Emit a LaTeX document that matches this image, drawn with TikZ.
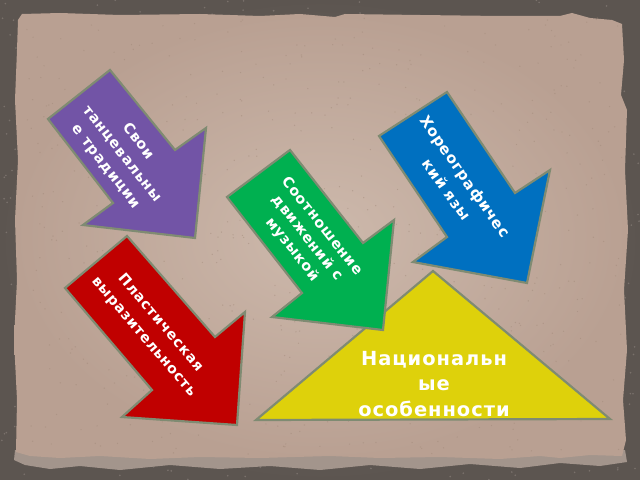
\documentclass[tikz,border=0pt]{standalone}
\usepackage{fontspec}
\newfontfamily\osb{DejaVu Sans Bold}[LetterSpace=5]
\definecolor{bgdark}{HTML}{5C5550}
\definecolor{bgmid}{HTML}{7C736D}
\definecolor{paperin}{HTML}{CDB9AC}
\definecolor{paperout}{HTML}{B9A092}
\definecolor{tornband}{HTML}{A3958C}
\definecolor{outl}{HTML}{7F8B72}
\definecolor{cpurple}{HTML}{7254A6}
\definecolor{cgreen}{HTML}{00B050}
\definecolor{cblue}{HTML}{0070C0}
\definecolor{cred}{HTML}{C00000}
\definecolor{cyellow}{HTML}{DED10B}
\definecolor{speckdark}{HTML}{9E8676}
\definecolor{specklight}{HTML}{8E847E}
\tikzset{
  arrowshape/.style={draw=outl, line width=2.2pt, line join=miter},
  lbl/.style={text=white, align=center, inner sep=0pt},
}
\begin{document}
\begin{tikzpicture}[x=1bp, y=-1bp]
\useasboundingbox (0,0) rectangle (640,480);
% dark background
\shade[inner color=bgmid, outer color=bgdark] (0,0) rectangle (640,480);
\pgfmathsetseed{4711}
\foreach \i in {1,...,700} {
  \pgfmathsetmacro\xx{640*rnd}\pgfmathsetmacro\yy{480*rnd}
  \fill[specklight, opacity=0.6] (\xx,\yy) circle (0.9);
}
% torn lighter band below paper
\fill[tornband] (15,450) -- (625,450) -- (627,462) -- (600,466) -- (560,463) -- (520,468) -- (470,464) -- (420,469) -- (370,465) -- (320,470) -- (270,466) -- (220,469) -- (170,465) -- (120,470) -- (80,466) -- (50,469) -- (25,465) -- (14,460) -- cycle;
% paper
\shade[inner color=paperin, outer color=paperout]
 (22,14) -- (60,13) -- (120,15) -- (200,14) -- (260,16) -- (300,14) -- (335,17) -- (345,14) -- (420,15) -- (500,16) -- (560,16) -- (572,13) -- (590,18) -- (612,20) -- (622,24) -- (624,60) -- (621,95) -- (627,110) -- (625,170) -- (628,230) -- (624,290) -- (627,350) -- (623,400) -- (626,440) -- (622,456) -- (590,455) -- (560,458) -- (540,456) -- (500,459) -- (440,457) -- (380,458) -- (330,456) -- (260,458) -- (200,457) -- (150,459) -- (100,456) -- (60,458) -- (30,456) -- (16,452) -- (17,400) -- (14,340) -- (17,280) -- (15,220) -- (18,160) -- (15,100) -- (17,50) -- (18,20) -- cycle;
\foreach \i in {1,...,600} {
  \pgfmathsetmacro\xx{22+600*rnd}\pgfmathsetmacro\yy{18+436*rnd}
  \fill[speckdark, opacity=0.45] (\xx,\yy) circle (0.7);
}
% triangle
\filldraw[arrowshape, fill=cyellow] (433,271) -- (610,419) -- (256,420) -- cycle;
\node[lbl, font=\osb\fontsize{19.5}{25.5}\selectfont] (tnat) at (434,384) {Национальн\\ые\\особенности};
% purple arrow
\filldraw[arrowshape, fill=cpurple] (110,70) -- (175,150) -- (206,128) -- (195,238) -- (83,225) -- (113,203) -- (48,119) -- cycle;
\node[lbl, rotate=-52, font=\osb\fontsize{14.5}{20.6}\selectfont] (tsvoi) at (122,154) {Свои\\танцевальны\\е традиции};
% red arrow
\filldraw[arrowshape, fill=cred] (127,236) -- (215,337) -- (245,312) -- (237,425) -- (122,417) -- (152,390) -- (65,288) -- cycle;
\node[lbl, rotate=-49.5, font=\osb\fontsize{14.3}{22}\selectfont] (tplast) at (152,330) {Пластическая\\выразительность};
% green arrow
\filldraw[arrowshape, fill=cgreen] (290,150) -- (363,243) -- (394,220) -- (383,330) -- (272,317) -- (302,293) -- (227,197) -- cycle;
\node[lbl, rotate=-51.5, font=\osb\fontsize{14.5}{19}\selectfont] (tsoot) at (307,238) {Соотношение\\движений с\\музыкой};
% blue arrow
\filldraw[arrowshape, fill=cblue] (447,92) -- (515,193) -- (550,170) -- (527,283) -- (413,262) -- (447,237) -- (379,136) -- cycle;
\node[lbl, rotate=-55, font=\osb\fontsize{15}{22.5}\selectfont] (thor) at (456,183) {Хореографичес\\кий язы};
\end{tikzpicture}
\end{document}
